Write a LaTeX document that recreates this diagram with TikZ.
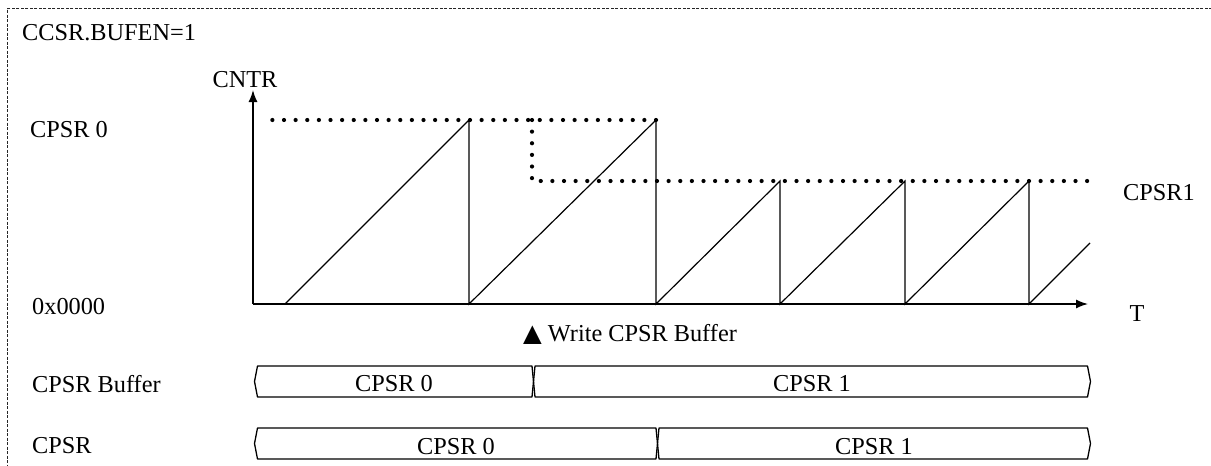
\documentclass[tikz,border=0pt]{standalone}
\usepackage{fontspec}
\setmainfont{Liberation Serif}
\newfontfamily\symbfont{DejaVu Sans}
\usepackage{tikz}
\usetikzlibrary{arrows.meta}

\tikzset{
  txt/.style={inner sep=0pt, font=\fontsize{24.3}{28}\selectfont},
  frameline/.style={line width=0.8pt, black!85, dash pattern=on 3pt off 1.5pt},
  axisline/.style={line width=1.4pt},
  rampline/.style={line width=1.2pt},
  dotline/.style={line width=4.2pt, line cap=round, dash pattern=on 0pt off 11.625pt},
  busline/.style={line width=1.3pt, line join=round}
}

\begin{document}
\begin{tikzpicture}[x=1pt, y=-1pt, >={Latex[length=12pt,width=9pt]}]
    \useasboundingbox (0,0) rectangle (1211,466);
    \draw[frameline] (1212,8.5) -- (7.5,8.5) -- (7.5,470);

    \coordinate (O)    at (253,304);
    \coordinate (Ytop) at (253,90);
    \coordinate (Xend) at (1088,304);

    \node[txt, anchor=base west] (bufen) at (22,40) {CCSR.BUFEN=1};
    \node[txt, anchor=base] (cntr) at (245,87) {CNTR};
    \node[txt, anchor=base west] (lvl0) at (30,137) {CPSR 0};
    \node[txt, anchor=base west] (lvl1) at (1123,200) {CPSR1};
    \node[txt, anchor=base west] (zero) at (32,314) {0x0000};
    \node[txt, anchor=base] (tlab) at (1137,321) {T};
    \node[txt, anchor=base west] (wbuf) at (523,341) {{\symbfont ▲} Write CPSR Buffer};
    \node[txt, anchor=base west] (bufrow) at (32,392) {CPSR Buffer};
    \node[txt, anchor=base west] (regrow) at (32,453) {CPSR};

    \draw[axisline,->] (O) -- (Ytop);
    \draw[axisline,->] (O) -- (Xend);

    \draw[dotline] (656,120) -- (261,120);
    \draw[dotline] (532,120) -- (532,181) -- (1090,181);

    \draw[rampline, line join=miter] (285,304) -- (469,120) -- (469,304)
        -- (656,120) -- (656,304) -- (780,181) -- (780,304)
        -- (905,181) -- (905,304) -- (1029,181) -- (1029,304)
        -- (1090,243);

    \draw[busline] (257.5,366) -- (532,366) -- (533.5,381.5) -- (532,397)
        -- (257.5,397) -- (254.5,381.5) -- cycle;
    \draw[busline] (535,366) -- (1087.5,366) -- (1090.5,381.5) -- (1087.5,397)
        -- (535,397) -- (533.5,381.5) -- cycle;
    \node[txt, anchor=base] (buf0) at (394,391.5) {CPSR 0};
    \node[txt, anchor=base] (buf1) at (812,391.5) {CPSR 1};

    \draw[busline] (257.5,428) -- (656,428) -- (657.5,443.5) -- (656,459)
        -- (257.5,459) -- (254.5,443.5) -- cycle;
    \draw[busline] (659,428) -- (1087.5,428) -- (1090.5,443.5) -- (1087.5,459)
        -- (659,459) -- (657.5,443.5) -- cycle;
    \node[txt, anchor=base] (reg0) at (456,454) {CPSR 0};
    \node[txt, anchor=base] (reg1) at (874,454) {CPSR 1};
\end{tikzpicture}
\end{document}
